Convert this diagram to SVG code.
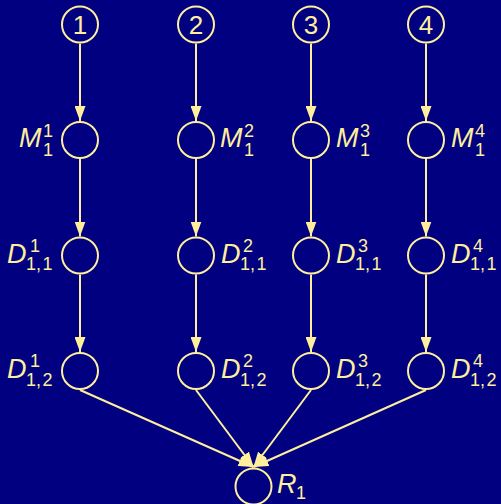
<svg xmlns="http://www.w3.org/2000/svg" width="501" height="504" viewBox="0 0 501 504">
<style>
.n{fill:none;stroke:#ffef9c;stroke-width:2}
.e{stroke:#ffef9c;stroke-width:2;fill:none;marker-end:url(#ah)}
.num{font-family:"Liberation Sans",Arial,sans-serif;font-size:26px;fill:#ffef9c;text-anchor:middle}
.m{font-family:"Liberation Sans",Arial,sans-serif;font-style:italic;font-size:27px;fill:#ffef9c}
.s{font-family:"Liberation Sans",Arial,sans-serif;font-size:18px;fill:#ffef9c}
</style>
<defs>
<marker id="ah" markerUnits="userSpaceOnUse" markerWidth="15" markerHeight="11" refX="15" refY="5.5" orient="auto">
<path d="M0,0 L15,5.5 L0,11 z" fill="#ffef9c"/>
</marker>
</defs>
<rect width="501" height="504" fill="#000080"/>
<g id="connectors">
<line class="e" x1="80" y1="43.5" x2="80" y2="121"/>
<line class="e" x1="196" y1="43.5" x2="196" y2="121"/>
<line class="e" x1="311" y1="43.5" x2="311" y2="121"/>
<line class="e" x1="426" y1="43.5" x2="426" y2="121"/>
<line class="e" x1="80" y1="159" x2="80" y2="236.5"/>
<line class="e" x1="196" y1="159" x2="196" y2="236.5"/>
<line class="e" x1="311" y1="159" x2="311" y2="236.5"/>
<line class="e" x1="426" y1="159" x2="426" y2="236.5"/>
<line class="e" x1="80" y1="274.5" x2="80" y2="352"/>
<line class="e" x1="196" y1="274.5" x2="196" y2="352"/>
<line class="e" x1="311" y1="274.5" x2="311" y2="352"/>
<line class="e" x1="426" y1="274.5" x2="426" y2="352"/>
<line class="e" x1="80" y1="390" x2="253.5" y2="467"/>
<line class="e" x1="196" y1="390" x2="253.5" y2="467"/>
<line class="e" x1="311" y1="390" x2="253.5" y2="467"/>
<line class="e" x1="426" y1="390" x2="253.5" y2="467"/>
</g>
<g id="n1"><circle class="n" cx="80" cy="24.5" r="18"/><text class="num" x="80" y="34">1</text></g>
<g id="n2"><circle class="n" cx="196" cy="24.5" r="18"/><text class="num" x="196" y="34">2</text></g>
<g id="n3"><circle class="n" cx="311" cy="24.5" r="18"/><text class="num" x="311" y="34">3</text></g>
<g id="n4"><circle class="n" cx="426" cy="24.5" r="18"/><text class="num" x="426" y="34">4</text></g>

<g id="M1"><circle class="n" cx="80" cy="140" r="18"/><text class="m" x="19" y="147">M</text><text class="s" x="43" y="136.5">1</text><text class="s" x="43" y="156">1</text></g>
<g id="M2"><circle class="n" cx="196" cy="140" r="18"/><text class="m" x="220" y="147">M</text><text class="s" x="244" y="136.5">2</text><text class="s" x="244" y="156">1</text></g>
<g id="M3"><circle class="n" cx="311" cy="140" r="18"/><text class="m" x="336" y="147">M</text><text class="s" x="360" y="136.5">3</text><text class="s" x="360" y="156">1</text></g>
<g id="M4"><circle class="n" cx="426" cy="140" r="18"/><text class="m" x="451" y="147">M</text><text class="s" x="475" y="136.5">4</text><text class="s" x="475" y="156">1</text></g>

<g id="D11_1"><circle class="n" cx="80" cy="255.5" r="18"/><text class="m" x="7" y="262.5">D</text><text class="s" x="30" y="251.5">1</text><text class="s" x="26" y="270">1,<tspan dx="1.5">1</tspan></text></g>
<g id="D11_2"><circle class="n" cx="196" cy="255.5" r="18"/><text class="m" x="221" y="262.5">D</text><text class="s" x="243" y="251.5">2</text><text class="s" x="240" y="270">1,<tspan dx="1.5">1</tspan></text></g>
<g id="D11_3"><circle class="n" cx="311" cy="255.5" r="18"/><text class="m" x="336" y="262.5">D</text><text class="s" x="358" y="251.5">3</text><text class="s" x="355" y="270">1,<tspan dx="1.5">1</tspan></text></g>
<g id="D11_4"><circle class="n" cx="426" cy="255.5" r="18"/><text class="m" x="451" y="262.5">D</text><text class="s" x="473" y="251.5">4</text><text class="s" x="470" y="270">1,<tspan dx="1.5">1</tspan></text></g>

<g id="D12_1"><circle class="n" cx="80" cy="371" r="18"/><text class="m" x="7" y="378">D</text><text class="s" x="30" y="367">1</text><text class="s" x="26" y="385.5">1,<tspan dx="1.5">2</tspan></text></g>
<g id="D12_2"><circle class="n" cx="196" cy="371" r="18"/><text class="m" x="221" y="378">D</text><text class="s" x="243" y="367">2</text><text class="s" x="240" y="385.5">1,<tspan dx="1.5">2</tspan></text></g>
<g id="D12_3"><circle class="n" cx="311" cy="371" r="18"/><text class="m" x="336" y="378">D</text><text class="s" x="358" y="367">3</text><text class="s" x="355" y="385.5">1,<tspan dx="1.5">2</tspan></text></g>
<g id="D12_4"><circle class="n" cx="426" cy="371" r="18"/><text class="m" x="451" y="378">D</text><text class="s" x="473" y="367">4</text><text class="s" x="470" y="385.5">1,<tspan dx="1.5">2</tspan></text></g>

<g id="R1"><circle class="n" cx="253.5" cy="486.5" r="18"/><text class="m" x="277" y="493">R</text><text class="s" x="296" y="499">1</text></g>
</svg>
